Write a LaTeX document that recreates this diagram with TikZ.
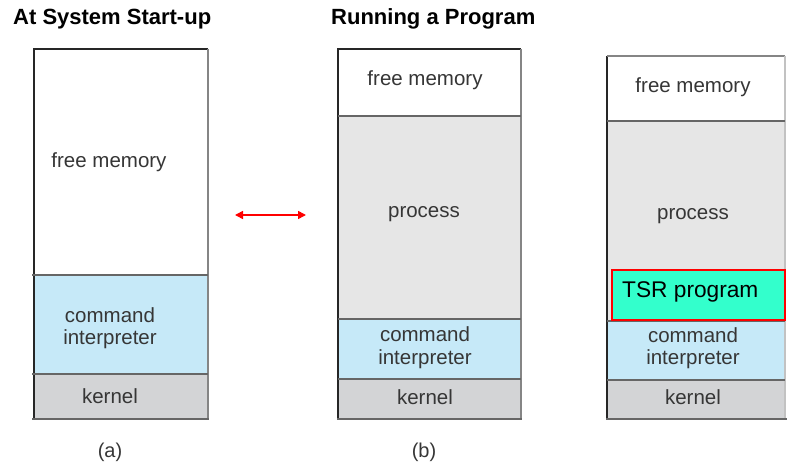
\documentclass[tikz,border=0pt]{standalone}
\usepackage{fontspec}
\setmainfont{Liberation Sans}
\usetikzlibrary{arrows.meta}
\definecolor{txt}{HTML}{363636}
\definecolor{cmdblue}{HTML}{C6E9F8}
\definecolor{kerngray}{HTML}{D3D4D6}
\definecolor{procgray}{HTML}{E6E6E6}
\definecolor{tsrgreen}{HTML}{33FFCC}
\definecolor{edge}{HTML}{666666}
\tikzset{
  title/.style={anchor=base west, inner sep=0pt, font=\fontsize{22}{26}\selectfont\bfseries, text=black},
  lbl/.style={anchor=base, inner sep=0pt, font=\fontsize{20.5}{24}\selectfont, text=txt},
  caption/.style={anchor=base, inner sep=0pt, font=\fontsize{20}{24}\selectfont, text=txt},
  divider/.style={draw=edge, line width=1.3pt},
  outer/.style={draw=black!85, line width=1.2pt},
  side/.style={draw=edge!80, line width=1.1pt},
  link/.style={red, line width=1.6pt, {Triangle[length=8pt,width=8pt]}-{Triangle[length=8pt,width=8pt]}}
}
\begin{document}
\begin{tikzpicture}[x=1pt,y=-1pt]
\useasboundingbox (0,0) rectangle (787,465);

% headings
\node[title] (t1) at (13,25) {At System Start-up};
\node[title] (t2) at (331,25) {Running a Program};

% ---- layout (a): start-up ----
\fill[white]    (34,49)  rectangle (208,275);
\fill[cmdblue]  (34,275) rectangle (208,374);
\fill[kerngray] (34,374) rectangle (208,419);
\draw[outer] (34,419) -- (34,49) -- (208,49);
\draw[side]  (208,49) -- (208,419);
\draw[divider] (32,275) -- (208,275);
\draw[divider] (32,374) -- (208,374);
\draw[divider] (32,419) -- (209,419);
\node[lbl] (a-free) at (109,168) {free memory};
\node[lbl] (a-cmd1) at (110,322) {command};
\node[lbl] (a-cmd2) at (110,344) {interpreter};
\node[lbl] (a-kern) at (110,403) {kernel};
\node[caption] (a-cap) at (110,457) {(a)};

% ---- layout (b): running a program ----
\fill[white]    (338,49)  rectangle (521,116);
\fill[procgray] (338,116) rectangle (521,319);
\fill[cmdblue]  (338,319) rectangle (521,379);
\fill[kerngray] (338,379) rectangle (521,419);
\draw[outer] (338,419) -- (338,49) -- (521,49);
\draw[side]  (521,49) -- (521,419);
\draw[divider] (338,116) -- (521,116);
\draw[divider] (338,319) -- (521,319);
\draw[divider] (338,379) -- (521,379);
\draw[divider] (337,419) -- (522,419);
\node[lbl] (b-free) at (425,86) {free memory};
\node[lbl] (b-proc) at (424,218) {process};
\node[lbl] (b-cmd1) at (425,341) {command};
\node[lbl] (b-cmd2) at (425,364) {interpreter};
\node[lbl] (b-kern) at (425,404) {kernel};
\node[caption] (b-cap) at (424,457) {(b)};

% ---- layout (c): resident program in memory ----
\fill[white]    (607,56)  rectangle (785,121);
\fill[procgray] (607,121) rectangle (785,321);
\fill[cmdblue]  (607,321) rectangle (785,380);
\fill[kerngray] (607,380) rectangle (785,419);
\draw[outer] (607,419) -- (607,56);
\draw[side]  (607,56) -- (785,56);
\draw[side, draw=edge!40] (785,56) -- (785,419);
\draw[divider] (607,121) -- (785,121);
\draw[divider] (607,321) -- (785,321);
\draw[divider] (607,380) -- (785,380);
\draw[divider] (606,419) -- (787,419);
\node[lbl] (c-free) at (693,93) {free memory};
\node[lbl] (c-proc) at (693,219) {process};
\filldraw[fill=tsrgreen, draw=red, line width=1.5pt] (612,270) rectangle (785,320);
\node[anchor=base west, inner sep=0pt, font=\fontsize{22.7}{26}\selectfont, text=black] (tsr) at (622,297) {TSR program};
\node[lbl] (c-cmd1) at (693,342) {command};
\node[lbl] (c-cmd2) at (693,364) {interpreter};
\node[lbl] (c-kern) at (693,404) {kernel};

% double-headed red arrow between (a) and (b)
\coordinate (arrL) at (235,215);
\coordinate (arrR) at (306,215);
\draw[link] (arrL) -- (arrR);
\end{tikzpicture}
\end{document}
